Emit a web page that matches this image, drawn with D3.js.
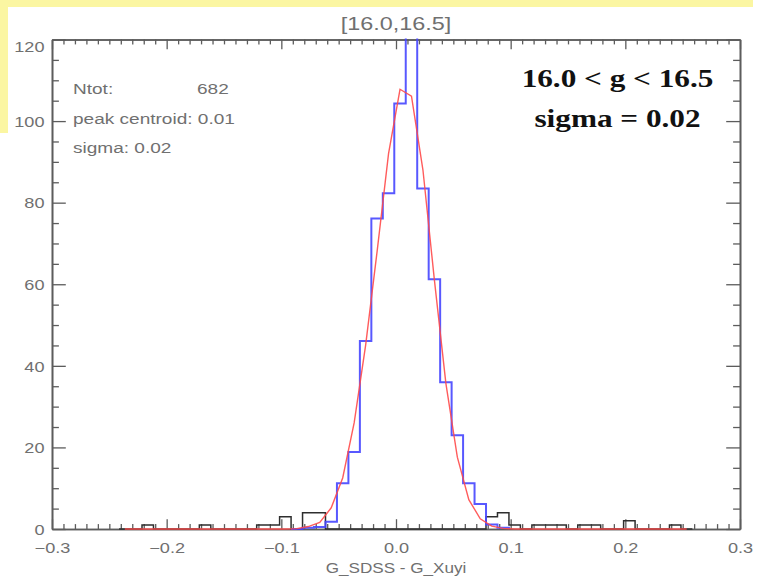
<!DOCTYPE html>
<html>
<head>
<meta charset="utf-8">
<script src="https://cdn.jsdelivr.net/npm/d3@7"></script>
<style>
  html, body { margin: 0; padding: 0; background: #ffffff; }
  svg { display: block; }
</style>
</head>
<body>
<svg id="chart" width="758" height="578"></svg>
<script>
// ---- data -------------------------------------------------------------
// histogram bins: width 0.01, left edges starting at firstBinEdge
const firstBinEdge = -0.2415;
const binWidth = 0.01;

// all residuals rejected from the fit (outliers), one value per bin
const outlierCounts = [
  0, 0, 1, 0, 0, 0, 0, 1, 0, 0,
  0, 0, 1, 1, 3, 0, 4, 4, 0, 0,
  0, 0, 0, 0, 0, 0, 0, 0, 0, 0,
  0, 0, 3, 4, 1, 0, 1, 1, 1, 0,
  1, 1, 0, 0, 2, 0, 0, 0, 1, 0
];

// fitted sample histogram, starting at blueFirstEdge
const blueFirstEdge = -0.0915;
const blueCounts = [
  0, 0.3, 0.5, 1.8, 11.2, 18.9, 46.1, 76.1, 82.3, 104.3,
  128, 83.5, 61.2, 36.0, 23.0, 11.2, 6.1, 1.1, 0.3
];

// gaussian fit evaluated at the bin centres
const fitCounts = [
  0, 0, 0, 0, 0, 0, 0, 0, 0, 0,
  0, 0, 0, 0, 0, 0.1, 0.6, 1.6, 5.2, 12.5,
  26, 45, 68, 92, 107.8, 106.1, 88, 61, 35.7, 17.6,
  7.2, 2.5, 0.7, 0.15, 0, 0, 0, 0, 0, 0,
  0, 0, 0, 0, 0, 0, 0, 0, 0, 0
];

const xMajorTicks = [-0.3, -0.2, -0.1, 0.0, 0.1, 0.2, 0.3];
const xTickLabels = ["\u22120.3", "\u22120.2", "\u22120.1", "0.0", "0.1", "0.2", "0.3"];
const yMajorTicks = [0, 20, 40, 60, 80, 100, 120];
const yTickLabels = ["0", "20", "40", "60", "80", "100", "120"];

const titleText = "[16.0,16.5]";
const xAxisTitle = "G_SDSS - G_Xuyi";
const statsLines = [["Ntot:", "682"], ["peak centroid: 0.01", ""], ["sigma: 0.02", ""]];
const rangeLines = ["16.0 < g < 16.5", "sigma = 0.02"];

// ---- layout ---------------------------------------------------------
const svg = d3.select("#chart");
const plot = { left: 52, right: 740, top: 39.5, bottom: 529 };

const x = d3.scaleLinear().domain([-0.3, 0.3]).range([plot.left, plot.right]);
const y = d3.scaleLinear().domain([0, 120]).range([plot.bottom, plot.top]);

const axisColor = "#5c5c5c";
const textColor = "#707070";
const sansFont = "'Liberation Sans', Arial, sans-serif";
const stretch = 1.25;

// page decoration: yellow slide border behind the figure
svg.append("rect").attr("x", 0).attr("y", 0).attr("width", 753).attr("height", 7)
  .attr("fill", "#fbf6a2");
svg.append("rect").attr("x", 0).attr("y", 0).attr("width", 8).attr("height", 133)
  .attr("fill", "#fbf6a2");

// ---- axes (ticks on all four sides, pointing inward) ---------------------
const xMinor = d3.range(-30, 31).map(i => i / 100).filter(v => Math.abs(Math.round(v * 100)) % 10 !== 0);
const yMinor = d3.range(0, 121, 5).filter(v => v % 20 !== 0);

const xMajorLen = 9.8, xMinorLen = 4.9, yMajorLen = 13.8, yMinorLen = 6.9;

function styleAxis(g) {
  g.selectAll("path.domain").attr("stroke", axisColor).attr("stroke-width", 1.6);
  g.selectAll(".tick line").attr("stroke", axisColor).attr("stroke-width", 1.3);
  g.selectAll(".tick text").attr("fill", textColor)
    .style("font-family", sansFont).style("font-size", "14.5px");
}

// bottom
const gBottom = svg.append("g").attr("transform", `translate(0,${plot.bottom})`)
  .call(d3.axisBottom(x).tickValues(xMajorTicks).tickSize(-xMajorLen).tickSizeOuter(0)
    .tickPadding(13.5).tickFormat((d, i) => xTickLabels[i]));
styleAxis(gBottom);
gBottom.selectAll(".tick text").attr("transform", `scale(${stretch},1)`);
svg.append("g").attr("transform", `translate(0,${plot.bottom})`)
  .call(d3.axisBottom(x).tickValues(xMinor).tickSize(-xMinorLen).tickSizeOuter(0).tickFormat(""))
  .call(styleAxis);

// top
svg.append("g").attr("transform", `translate(0,${plot.top})`)
  .call(d3.axisTop(x).tickValues(xMajorTicks).tickSize(-xMajorLen).tickSizeOuter(0).tickFormat(""))
  .call(styleAxis);
svg.append("g").attr("transform", `translate(0,${plot.top})`)
  .call(d3.axisTop(x).tickValues(xMinor).tickSize(-xMinorLen).tickSizeOuter(0).tickFormat(""))
  .call(styleAxis);

// left
const gLeft = svg.append("g").attr("transform", `translate(${plot.left},0)`)
  .call(d3.axisLeft(y).tickValues(yMajorTicks).tickSize(-yMajorLen).tickSizeOuter(0)
    .tickPadding(6).tickFormat((d, i) => yTickLabels[i]));
styleAxis(gLeft);
gLeft.selectAll(".tick text")
  .attr("transform", `scale(${stretch},1)`)
  .attr("dy", d => d === 120 ? "0.85em" : "0.36em");
svg.append("g").attr("transform", `translate(${plot.left},0)`)
  .call(d3.axisLeft(y).tickValues(yMinor).tickSize(-yMinorLen).tickSizeOuter(0).tickFormat(""))
  .call(styleAxis);

// right
svg.append("g").attr("transform", `translate(${plot.right},0)`)
  .call(d3.axisRight(y).tickValues(yMajorTicks).tickSize(-yMajorLen).tickSizeOuter(0).tickFormat(""))
  .call(styleAxis);
svg.append("g").attr("transform", `translate(${plot.right},0)`)
  .call(d3.axisRight(y).tickValues(yMinor).tickSize(-yMinorLen).tickSizeOuter(0).tickFormat(""))
  .call(styleAxis);

// ---- histograms and fit -----------------------------------------------
svg.append("clipPath").attr("id", "plotClip")
  .append("rect")
  .attr("x", plot.left).attr("y", plot.top - 1)
  .attr("width", plot.right - plot.left).attr("height", plot.bottom - plot.top + 2);

const layer = svg.append("g").attr("clip-path", "url(#plotClip)");

function stepPoints(startEdge, counts) {
  const pts = [];
  counts.forEach((v, i) => {
    const lo = startEdge + i * binWidth;
    pts.push([lo, v], [lo + binWidth, v]);
  });
  return pts;
}

const line = d3.line().x(d => x(d[0])).y(d => y(d[1]));

layer.append("path")
  .attr("d", line(stepPoints(firstBinEdge, outlierCounts)))
  .attr("fill", "none").attr("stroke", "#2e2e2e").attr("stroke-width", 1.5);

const bluePts = [[blueFirstEdge, 0]].concat(stepPoints(blueFirstEdge, blueCounts));
bluePts.push([blueFirstEdge + blueCounts.length * binWidth, 0]);
layer.append("path")
  .attr("d", line(bluePts))
  .attr("fill", "none").attr("stroke", "#4646ff").attr("stroke-opacity", 0.9)
  .attr("stroke-width", 2);

const fitPts = fitCounts.map((v, i) => [firstBinEdge + (i + 0.5) * binWidth, v]);
layer.append("path")
  .attr("d", line(fitPts))
  .attr("fill", "none").attr("stroke", "#ff4a4a").attr("stroke-opacity", 0.9)
  .attr("stroke-width", 1.4);

// ---- text -------------------------------------------------------------
function stretchedText(px, py, str, opts) {
  return svg.append("text")
    .attr("transform", `translate(${px},${py}) scale(${opts.sx || stretch},1)`)
    .attr("text-anchor", opts.anchor || "start")
    .attr("fill", opts.fill || textColor)
    .style("font-family", opts.family || sansFont)
    .style("font-size", opts.size + "px")
    .style("font-weight", opts.weight || "normal")
    .text(str);
}

// panel title
stretchedText((plot.left + plot.right) / 2, 30, titleText, { size: 18, anchor: "middle", sx: 1.3 });

// x axis title
stretchedText((plot.left + plot.right) / 2, 573, xAxisTitle, { size: 14.5, anchor: "middle", sx: 1.18 });

// fit statistics block
const statsTop = 94, statsStep = 29.5;
statsLines.forEach((row, i) => {
  stretchedText(73, statsTop + i * statsStep, row[0], { size: 15, sx: 1.27 });
  if (row[1]) stretchedText(197, statsTop + i * statsStep, row[1], { size: 15, sx: 1.27 });
});

// magnitude range annotation
rangeLines.forEach((str, i) => {
  stretchedText(617.5, 87 + i * 39.5, str, {
    size: 25, anchor: "middle", sx: 1.25, fill: "#111111",
    family: "'Liberation Serif', 'Times New Roman', serif", weight: "bold"
  });
});
</script>
</body>
</html>
